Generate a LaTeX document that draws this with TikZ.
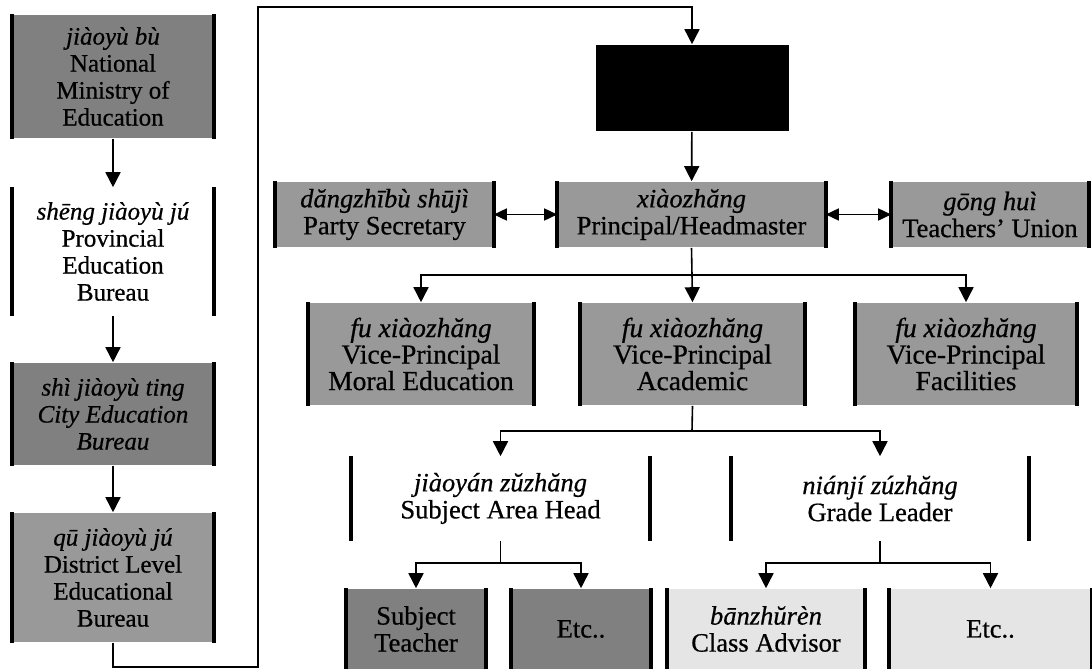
\documentclass[tikz,border=0pt]{standalone}
\usepackage{fontspec}
\setmainfont{Liberation Serif}
\newfontfamily\scanfont[FakeBold=0.6]{Liberation Serif}
\usetikzlibrary{arrows.meta}

\begin{document}
\begin{tikzpicture}[x=1pt, y=-1pt, line width=1.6pt,
    >={Triangle[width=15pt,length=15pt]},
    twoway/.style={<->, >={Triangle[width=12pt,length=13pt]}},
    leftbox/.style={inner sep=0pt, align=center, minimum width=200pt,
        font=\scanfont\fontsize{25}{27}\selectfont},
    orgbox/.style={inner sep=0pt, align=center,
        font=\scanfont\fontsize{26.5}{27}\selectfont},
    vicebox/.style={orgbox, font=\scanfont\fontsize{27.5}{26.5}\selectfont},
    dark/.style={fill=black!50},
    mid/.style={fill=black!40},
    pale/.style={fill=black!10},
    bar/.style={line width=4pt}]

    \useasboundingbox (0,0) rectangle (1092,669);

    %%% Left column: levels of administration
    \node (nat)  [leftbox, dark, minimum height=123pt] at (113,76.5)
        {\textit{jiàoyù bù}\\National\\Ministry of\\Education};
    \node (prov) [leftbox, minimum height=127pt] at (113,251.5)
        {\textit{shēng jiàoyù jú}\\Provincial\\Education\\Bureau};
    \node (city) [leftbox, dark, minimum height=102pt] at (113,414)
        {\textit{shì jiàoyù ting}\\\textit{City Education}\\\textit{Bureau}};
    \node (dist) [leftbox, mid, minimum height=129pt] at (113,577.5)
        {\textit{qū jiàoyù jú}\\District Level\\Educational\\Bureau};

    \draw[->] (nat) -- (prov);
    \draw[->] (prov) -- (city);
    \draw[->] (city) -- (dist);

    %%% School
    \node (head) [fill=black, minimum width=193pt, minimum height=86pt] at (692,88) {};

    % Row 2
    \node (party) [orgbox, mid, minimum width=217pt, minimum height=65pt] at (384.5,214.5)
        {\textit{dăngzhībù shūjì}\\Party Secretary};
    \node (prin)  [orgbox, mid, minimum width=267pt, minimum height=65pt] at (691.5,214.5)
        {\textit{xiàozhăng}\\Principal/Headmaster};
    \node (union) [orgbox, mid, minimum width=196pt, minimum height=65pt] at (990,214.5)
        {\textit{gōng huì}\\Teachers’ Union};

    % Row 3
    \node (moral) [vicebox, mid, minimum width=224pt, minimum height=102pt] at (421,354)
        {\textit{fu xiàozhăng}\\Vice-Principal\\Moral Education};
    \node (acad)  [vicebox, mid, minimum width=223pt, minimum height=102pt] at (692.5,354)
        {\textit{fu xiàozhăng}\\Vice-Principal\\Academic};
    \node (facil) [vicebox, mid, minimum width=220pt, minimum height=102pt] at (966,354)
        {\textit{fu xiàozhăng}\\Vice-Principal\\Facilities};

    % Row 4
    \node (subj)  [orgbox, minimum width=297pt, minimum height=83pt] at (500.5,498.5)
        {\textit{jiàoyán zŭzhăng}\\Subject Area Head};
    \node (grade) [orgbox, minimum width=296pt, minimum height=83pt] at (880,498.5)
        {\textit{niánjí zúzhăng}\\Grade Leader};

    % Row 5
    \node (teach)  [orgbox, dark, minimum width=138pt, minimum height=80pt] at (416,629)
        {Subject\\Teacher};
    \node (etcone) [orgbox, dark, minimum width=138pt, minimum height=80pt] at (581,629)
        {Etc..};
    \node (advis)  [orgbox, pale, minimum width=196pt, minimum height=80pt] at (766,629)
        {\textit{bānzhŭrèn}\\Class Advisor};
    \node (etctwo) [orgbox, pale, minimum width=201pt, minimum height=80pt] at (990.5,629)
        {Etc..};

    % side bars of the boxes
    \foreach \n in {nat,prov,city,dist,party,prin,union,moral,acad,facil,
                    subj,grade,teach,etcone,advis,etctwo}
        \draw[bar] (\n.north west) -- (\n.south west)
                   (\n.north east) -- (\n.south east);

    %%% Connectors
    \coordinate (lowturn) at (258,667);
    \coordinate (topturn) at (258,7);
    \draw[->] (dist.south) |- (lowturn) -- (topturn) -| (head.north);

    \draw[->] (head) -- (prin);
    \draw[twoway] (party) -- (prin);
    \draw[twoway] (prin) -- (union);

    \coordinate (split1) at (692,275);
    \draw (prin.south) -- (split1);
    \draw[->] (split1) -| (moral.north);
    \draw[->] (split1) -- (acad.north);
    \draw[->] (split1) -| (facil.north);

    \coordinate (split2) at (692,431);
    \draw (acad.south) -- (split2);
    \draw[->] (split2) -| (subj.north);
    \draw[->] (split2) -| (grade.north);

    \coordinate (split3) at (500.5,563);
    \draw (subj.south) -- (split3);
    \draw[->] (split3) -| (teach.north);
    \draw[->] (split3) -| (etcone.north);

    \coordinate (split4) at (880,563);
    \draw (grade.south) -- (split4);
    \draw[->] (split4) -| (advis.north);
    \draw[->] (split4) -| (etctwo.north);

\end{tikzpicture}
\end{document}
